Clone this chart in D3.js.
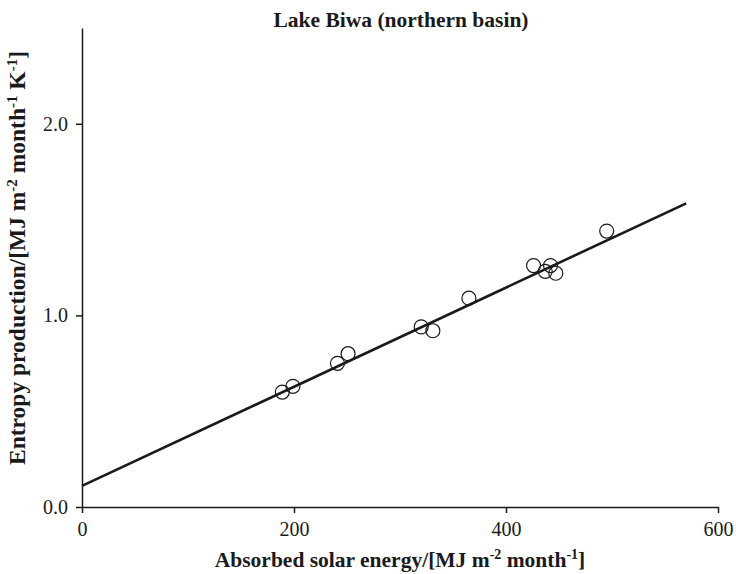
<!DOCTYPE html>
<html>
<head>
<meta charset="utf-8">
<script src="https://cdn.jsdelivr.net/npm/d3@7"></script>
<style>
  body { margin: 0; background: #fff; }
  svg { display: block; }
  text { font-family: "Liberation Serif", "Times New Roman", serif; fill: #1a1a1a; }
</style>
</head>
<body>
<svg id="chart" width="736" height="574"></svg>
<script>
// Data
const absorbedEnergy = [189, 199, 241, 251, 320, 331, 365, 426, 437, 442, 447, 495];
const entropyProduction = [0.60, 0.63, 0.75, 0.80, 0.94, 0.92, 1.09, 1.26, 1.23, 1.26, 1.22, 1.44];
const fitLine = [{x: 0, y: 0.11}, {x: 570, y: 1.585}];
const xTicks = [0, 200, 400, 600];
const yTicks = [0, 1, 2];
const titleText = "Lake Biwa (northern basin)";

const svg = d3.select("#chart");
const margin = {left: 82, right: 18, top: 28, bottom: 67};
const W = 736, H = 574;

const x = d3.scaleLinear().domain([0, 600]).range([margin.left, W - margin.right]);
const y = d3.scaleLinear().domain([0, 2.5]).range([H - margin.bottom, margin.top]);

// Axes
const xAxis = svg.append("g")
  .attr("transform", `translate(0,${y(0)})`)
  .call(d3.axisBottom(x).tickValues(xTicks).tickFormat(d3.format("d")).tickSize(6).tickSizeOuter(0).tickPadding(9));
const yAxis = svg.append("g")
  .attr("transform", `translate(${x(0)},0)`)
  .call(d3.axisLeft(y).tickValues(yTicks).tickFormat(d3.format(".1f")).tickSize(6).tickSizeOuter(0).tickPadding(8));

[xAxis, yAxis].forEach(g => {
  g.attr("font-family", null);
  g.selectAll("path.domain").attr("stroke", "#1a1a1a").attr("stroke-width", 1.5);
  g.selectAll(".tick line").attr("stroke", "#1a1a1a").attr("stroke-width", 1.5);
  g.selectAll(".tick text").style("font-family", "'Liberation Serif', serif").style("font-size", "20px").attr("fill", "#1a1a1a");
});

// Fit line
svg.append("path")
  .datum(fitLine)
  .attr("fill", "none")
  .attr("stroke", "#1a1a1a")
  .attr("stroke-width", 2.6)
  .attr("d", d3.line().x(d => x(d.x)).y(d => y(d.y)));

// Points
svg.append("g").selectAll("circle")
  .data(absorbedEnergy.map((v, i) => ({x: v, y: entropyProduction[i]})))
  .join("circle")
  .attr("cx", d => x(d.x))
  .attr("cy", d => y(d.y))
  .attr("r", 7)
  .attr("fill", "none")
  .attr("stroke", "#1a1a1a")
  .attr("stroke-width", 1.2);

// Title
svg.append("text")
  .attr("x", 401).attr("y", 27)
  .attr("text-anchor", "middle")
  .style("font-size", "21.5px").style("font-weight", "bold")
  .text(titleText);

// X label
const xl = svg.append("text")
  .attr("x", 400).attr("y", 567)
  .attr("text-anchor", "middle")
  .style("font-size", "21.5px").style("font-weight", "bold");
xl.append("tspan").text("Absorbed solar energy/[MJ m");
xl.append("tspan").attr("dy", -8).style("font-size", "14px").text("-2");
xl.append("tspan").attr("dy", 8).text(" month");
xl.append("tspan").attr("dy", -8).style("font-size", "14px").text("-1");
xl.append("tspan").attr("dy", 8).text("]");

// Y label
const yl = svg.append("text")
  .attr("transform", "translate(25,258) rotate(-90)")
  .attr("text-anchor", "middle")
  .style("font-size", "23.5px").style("font-weight", "bold");
yl.append("tspan").text("Entropy production/[MJ m");
yl.append("tspan").attr("dy", -8).style("font-size", "15px").text("-2");
yl.append("tspan").attr("dy", 8).text(" month");
yl.append("tspan").attr("dy", -8).style("font-size", "15px").text("-1");
yl.append("tspan").attr("dy", 8).text(" K");
yl.append("tspan").attr("dy", -8).style("font-size", "15px").text("-1");
yl.append("tspan").attr("dy", 8).text("]");
</script>
</body>
</html>
